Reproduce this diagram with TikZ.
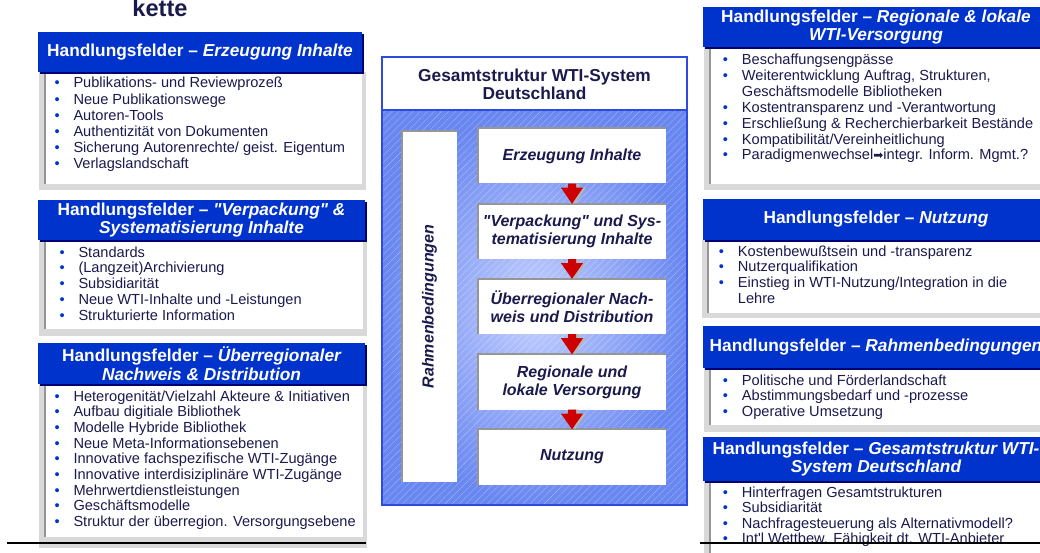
\documentclass[tikz,border=0pt]{standalone}
\usepackage{fontspec}
\usepackage{graphicx}
\setmainfont{Liberation Sans}[Ligatures=TeXOff]
\newfontfamily\symfont{DejaVu Sans}
\usepackage{tikz}
\usetikzlibrary{calc}
\usetikzlibrary{shadows}
\usetikzlibrary{patterns.meta}
\definecolor{hfblue}{RGB}{0,51,204}
\definecolor{hfshadow}{RGB}{0,0,110}
\definecolor{hftext}{RGB}{26,26,77}
\definecolor{hfgray}{RGB}{217,217,217}
\definecolor{hfline}{RGB}{150,150,150}
\definecolor{rimblue}{RGB}{45,75,225}
\definecolor{hatchlight}{RGB}{196,208,255}
\definecolor{hatchdark}{RGB}{105,135,240}
\definecolor{arrowred}{RGB}{204,0,0}
\tikzstyle{hfhead}=[fill=hfblue, text=white, align=center, inner sep=0pt, font=\fontsize{17.3}{18.5}\selectfont\bfseries, drop shadow={shadow xshift=2pt, shadow yshift=-2pt, fill=hfshadow, opacity=1}]
\tikzstyle{item}=[anchor=base west, inner sep=0pt, text=hftext, font=\fontsize{14.6}{15.8}\selectfont]
\tikzstyle{procbox}=[fill=white, align=center, inner sep=0pt, minimum width=188, minimum height=55, text=hftext, font=\fontsize{16}{18}\selectfont\bfseries\itshape]
\tikzstyle{edgegray}=[draw=hfline, line width=2]
\newcommand{\bul}{\makebox[19pt][l]{\textcolor{hfblue}{•}}}
\newcommand{\hfbody}[5]{%
  \fill[hfgray] (#1-7,#2) rectangle (#3+4,#5);
  \fill[white] (#1,#2) rectangle (#3,#4);
  \draw[hfline, line width=2] (#1-1,#2) -- (#1-1,#4);}
\begin{document}
\begin{tikzpicture}[x=1pt,y=-1pt]
\useasboundingbox (0,0) rectangle (1040,553);
\clip (0,0) rectangle (1040,553);
\node[font=\fontsize{23.6}{24}\selectfont\bfseries, text=hftext, anchor=base] (kt) at (160,16.5) {kette};

% linke Spalte
\hfbody{45.5}{72}{362}{184}{190}
\hfbody{45.5}{240}{363}{329}{336}
\hfbody{45.5}{384}{363}{537}{548}
\node[hfhead, minimum width=324, minimum height=40] (h1) at (200,52) {Handlungsfelder – {\itshape Erzeugung Inhalte}};
\node[hfhead, minimum width=327, minimum height=40] (h2) at (201.5,220) {Handlungsfelder – {\itshape "Verpackung" \&}\\{\itshape Systematisierung Inhalte}};
\node[hfhead, minimum width=327, minimum height=41] (h3) at (201.5,363.5) {Handlungsfelder – {\itshape Überregionaler}\\{\itshape Nachweis \& Distribution}};
\foreach \t [count=\k] in {Publikations- und Reviewprozeß, Neue Publikationswege, Autoren-Tools, Authentizität von Dokumenten, Sicherung Autorenrechte/ geist. Eigentum, Verlagslandschaft}
  \node[item] (la\k) at (54.3,{88+16.1*(\k-1)}) {\bul\t};
\foreach \t [count=\k] in {Standards, (Langzeit)Archivierung, Subsidiarität, Neue WTI-Inhalte und -Leistungen, Strukturierte Information}
  \node[item] (lb\k) at (59.3,{257+15.8*(\k-1)}) {\bul\t};
\foreach \t [count=\k] in {Heterogenität/Vielzahl Akteure \& Initiativen, Aufbau digitiale Bibliothek, Modelle Hybride Bibliothek, Neue Meta-Informationsebenen, Innovative fachspezifische WTI-Zugänge, Innovative interdisiziplinäre WTI-Zugänge, Mehrwertdienstleistungen, Geschäftsmodelle, Struktur der überregion. Versorgungsebene}
  \node[item] (lc\k) at (54.3,{401+15.7*(\k-1)}) {\bul\t};

% Mitte
\draw[rimblue, line width=1.2, fill=white] (382,57) rectangle (687,505);
\shade[inner color=hatchlight, outer color=hatchdark] (382,110) rectangle (687,505);
\fill[pattern={Lines[angle=45, distance=5pt, line width=0.4pt]}, pattern color=white, opacity=.35] (382,110) rectangle (687,505);
\draw[rimblue, line width=1.2] (382,57) rectangle (687,505) (382,110) -- (687,110);
\node[font=\fontsize{17.3}{18}\selectfont\bfseries, text=hftext, align=center] (gt) at (534.5,84) {Gesamtstruktur WTI-System\\Deutschland};
\node[procbox, minimum width=55, minimum height=351] (rb) at (429.5,306.5) {\rotatebox{90}{Rahmenbedingungen}};
\node[procbox] (p1) at (572,156) {Erzeugung Inhalte};
\node[procbox] (p2) at (572,231.5) {"Verpackung" und Sys-\\tematisierung Inhalte};
\node[procbox] (p3) at (572,306.5) {Überregionaler Nach-\\weis und Distribution};
\node[procbox] (p4) at (572,382) {Regionale und\\lokale Versorgung};
\node[procbox] (p5) at (572,457) {Nutzung};
\foreach \b in {rb,p1,p2,p3,p4,p5}
  \draw[edgegray] (\b.south west) -- (\b.north west) -- (\b.north east);
\foreach \a/\b in {p1/p2,p2/p3,p3/p4,p4/p5} {
  \fill[hfline!70] ($(\a.south)+(-1,0)$) -- ($(\a.south)+(7,0)$) -- ($(\a.south)+(7,4)$) -- ($(\a.south)+(14,4)$) -- ($(\b.north)+(3,0)$) -- ($(\a.south)+(-8,4)$) -- ($(\a.south)+(-1,4)$) -- cycle;
  \fill[arrowred] ($(\a.south)+(-4,0)$) -- ($(\a.south)+(4,0)$) -- ($(\a.south)+(4,4)$) -- ($(\a.south)+(11,4)$) -- (\b.north) -- ($(\a.south)+(-11,4)$) -- ($(\a.south)+(-4,4)$) -- cycle;
}

% rechte Spalte
\hfbody{711}{47}{1060}{184}{190}
\hfbody{709}{240}{1060}{313}{318}
\hfbody{711}{368}{1060}{425}{432}
\hfbody{711}{481}{1060}{560}{560}
\node[hfhead, minimum width=346, minimum height=40] (ha) at (876,27) {Handlungsfelder – {\itshape Regionale \& lokale}\\{\itshape WTI-Versorgung}};
\node[hfhead, minimum width=346, minimum height=41] (hb) at (876,219.5) {Handlungsfelder – {\itshape Nutzung}};
\node[hfhead, minimum width=346, minimum height=42] (hc) at (876,347) {Handlungsfelder – {\itshape Rahmenbedingungen}};
\node[hfhead, minimum width=346, minimum height=44] (hd) at (876,459) {Handlungsfelder – {\itshape Gesamtstruktur WTI-}\\{\itshape System Deutschland}};
\foreach \k/\t in {1/Beschaffungsengpässe, 2/{Weiterentwicklung Auftrag, Strukturen,}, 4/Kostentransparenz und -Verantwortung, 5/{Erschließung \& Recherchierbarkeit Bestände}, 6/{Kompatibilität/Vereinheitlichung}, 7/{Paradigmenwechsel{\symfont\fontsize{12}{12}\selectfont ➡}integr. Inform. Mgmt.?}}
  \node[item] (ra\k) at (722.7,{64.3+15.95*(\k-1)}) {\bul\t};
\node[item] (ra3) at (741.7,{64.3+15.95*2}) {Geschäftsmodelle Bibliotheken};
\foreach \k/\t in {1/Kostenbewußtsein und -transparenz, 2/Nutzerqualifikation, 3/{Einstieg in WTI-Nutzung/Integration in die}}
  \node[item] (rb\k) at (718.7,{256+15.8*(\k-1)}) {\bul\t};
\node[item] (rb4) at (737.7,{256+15.8*3}) {Lehre};
\foreach \t [count=\k] in {Politische und Förderlandschaft, Abstimmungsbedarf und -prozesse, Operative Umsetzung}
  \node[item] (rc\k) at (722.7,{385+15.5*(\k-1)}) {\bul\t};
\foreach \t [count=\k] in {Hinterfragen Gesamtstrukturen, Subsidiarität, Nachfragesteuerung als Alternativmodell?, Int'l Wettbew. Fähigkeit dt. WTI-Anbieter}
  \node[item] (rd\k) at (722.7,{497.5+15.3*(\k-1)}) {\bul\t};

\draw[line width=2] (7,543) -- (366,543);
\draw[line width=2] (700,543) -- (1040,543);
\end{tikzpicture}
\end{document}
